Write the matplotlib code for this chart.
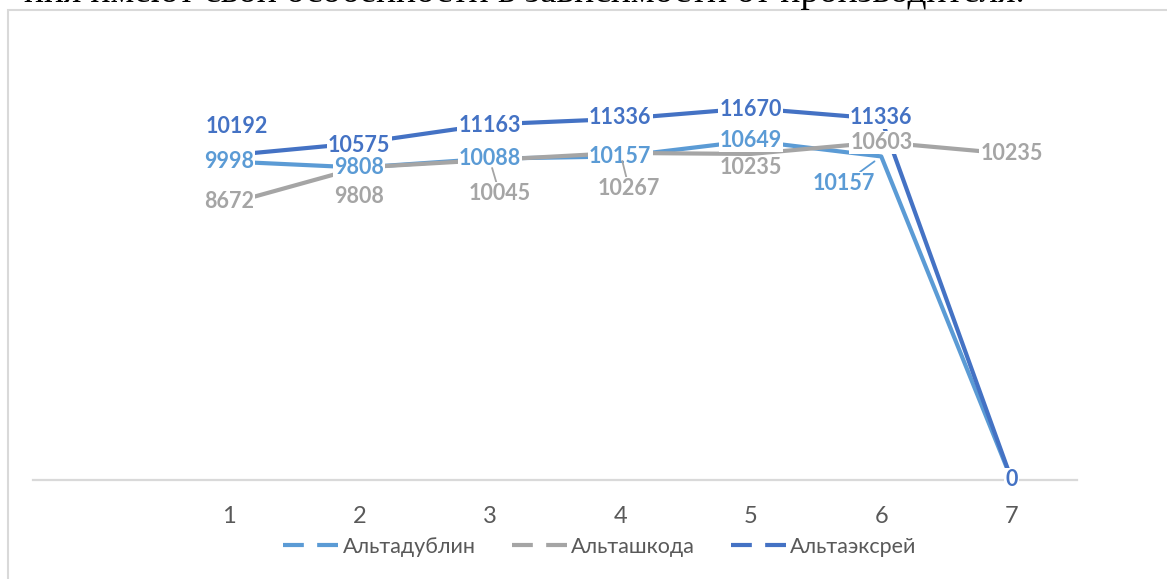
import matplotlib
matplotlib.use("Agg")
import matplotlib.pyplot as plt
from matplotlib.lines import Line2D
from matplotlib.patches import Rectangle

# ---- data ----
categories = [1, 2, 3, 4, 5, 6, 7]
series_names = ["Альтадублин", "Альташкода", "Альтаэксрей"]
dublin = [9998, 9808, 10088, 10157, 10649, 10157, 0]
shkoda = [8672, 9808, 10045, 10267, 10235, 10603, 10235]
xray = [10192, 10575, 11163, 11336, 11670, 11336, 0]
colors = ["#5B9BD5", "#A5A5A5", "#4472C4"]
header_text = "ния имеют свои особенности в зависимости от производителя."

W, H = 1167, 579
fig = plt.figure(figsize=(W / 100, H / 100), dpi=100)
fig.patch.set_facecolor("white")

# chart border
fig.add_artist(Rectangle((8 / W, -0.05), 1.2, 1 - 10 / H + 0.05,
                         transform=fig.transFigure, fill=False,
                         edgecolor="#D9D9D9", linewidth=1.5))

# header text (cropped paragraph above the chart)
fig.text(1025 / W, 1 - 2.5 / H, header_text, ha="right", va="baseline",
         fontsize=27, family="Liberation Serif", color="black")

ax = fig.add_axes([33 / W, 1 - 480 / H, (1077 - 33) / W, (480 - 34) / H])
ax.set_xlim(-0.5, 7.5)
ax.set_ylim(0, 14000)
for s in ["left", "right", "top"]:
    ax.spines[s].set_visible(False)
ax.spines["bottom"].set_color("#D9D9D9")
ax.spines["bottom"].set_linewidth(1.6)
ax.set_yticks([])
ax.set_xticks(categories)
ax.set_xticklabels([str(c) for c in categories])
ax.tick_params(axis="x", length=0, pad=19, labelsize=17, labelcolor="#595959")
for lab in ax.get_xticklabels():
    lab.set_family("Lato")

all_series = [dublin, shkoda, xray]
for vals, col, z in zip(all_series, colors, [2, 2.1, 2.2]):
    ax.plot(categories, vals, color=col, lw=3, solid_capstyle="butt", zorder=z)

# label offsets in pixels (dx, dy); None -> no label
offsets = [
    [(0, 0), (0, 0), (0, 0), (0, 0), (0, 0), (-37, -27), None],
    [(0, 2), (0, -29), (10, -34), (9, -36), (0, -14), (0, 0), (0, 0)],
    [(8, 29), (0, -2), (0, -1), (0, 1), (0, -1), (0, 1), (0, 0)],
]
leaders = {(1, 2), (1, 3), (0, 5)}

for si, (vals, col, offs) in enumerate(zip(all_series, colors, offsets)):
    for ci, (x, v) in enumerate(zip(categories, vals)):
        off = offs[ci]
        if off is None:
            continue
        kw = {}
        if (si, ci) in leaders:
            kw["arrowprops"] = dict(arrowstyle="-", color=col, lw=1.3,
                                    shrinkA=0, shrinkB=6)
        ax.annotate(str(v), xy=(x, v), xytext=off, textcoords="offset pixels",
                    ha="center", va="center", fontsize=15.5, fontweight="bold",
                    family="Lato", color=col, zorder=5 + si * 0.1,
                    bbox=dict(boxstyle="square,pad=0.05", fc="white", ec="none"),
                    annotation_clip=False, **kw)

handles = [Line2D([0], [0], color=c, lw=3, linestyle=(0, (5, 3.2)))
           for c in colors]
leg = fig.legend(handles, series_names, loc="center",
                 bbox_to_anchor=(600 / W, 1 - 547 / H), ncol=3, frameon=False,
                 handlelength=2.55, handletextpad=0.2, columnspacing=1.68,
                 prop={"family": "Lato", "size": 15.5})
for t in leg.get_texts():
    t.set_color("#595959")

fig.savefig("out.png", dpi=100)
